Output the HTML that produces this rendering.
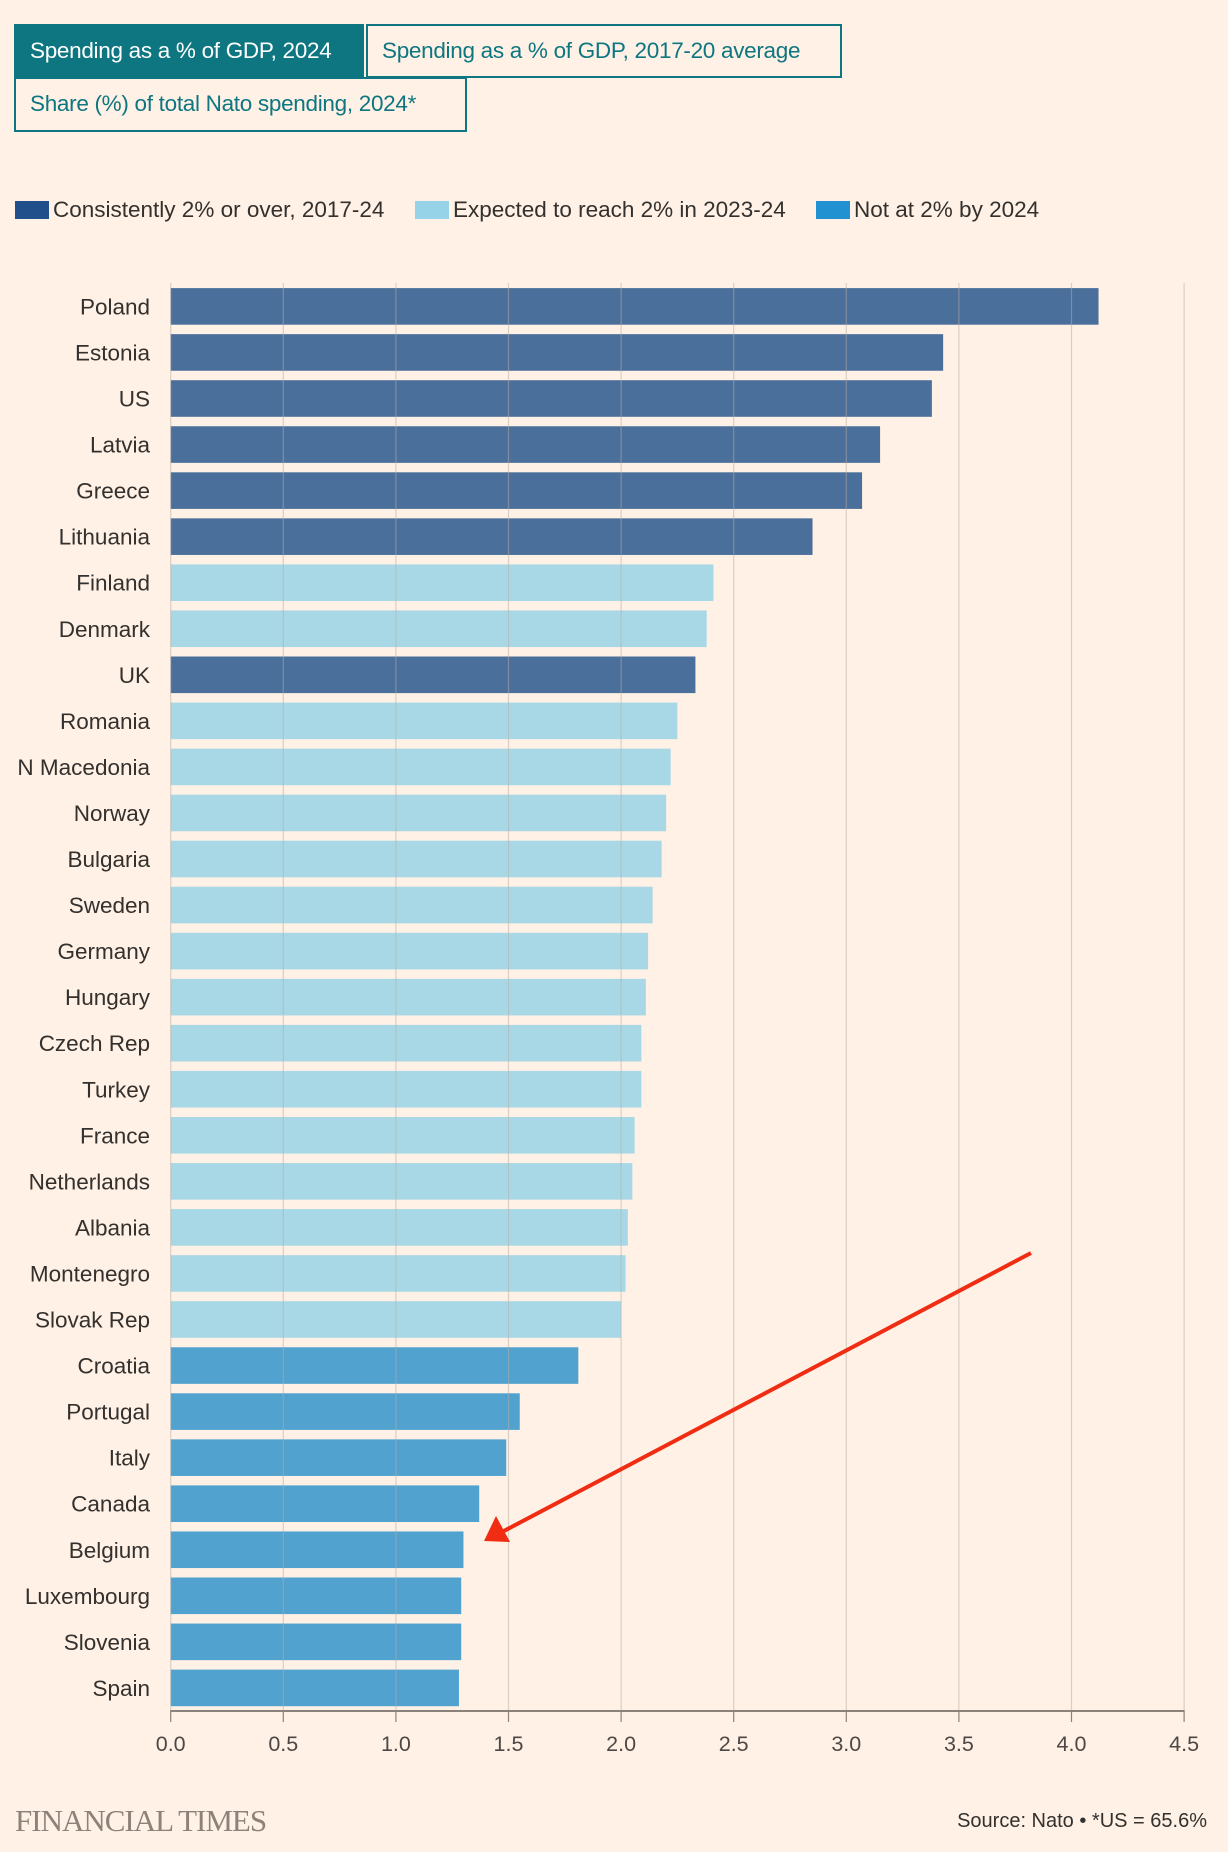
<!DOCTYPE html>
<html><head><meta charset="utf-8"><style>
body{margin:0;background:#fff1e5;font-family:"Liberation Sans",sans-serif;}
#wrap{position:relative;width:1228px;height:1852px;overflow:hidden;background:#fff1e5}
.btn{position:absolute;box-sizing:border-box;border:2px solid #0d7680;color:#0d7680;font-size:22.5px;line-height:49px;padding:0 14px;background:#fff1e5;white-space:nowrap;letter-spacing:-0.3px}
.btn.on{background:#0d7680;color:#fff}
.leg{position:absolute;top:197px;font-size:22.5px;color:#33302e;left:15px;width:1200px;height:26px}
.leg span{position:absolute;top:0;display:flex;align-items:center;gap:4px;white-space:nowrap}
.sw{width:34px;height:18px;display:inline-block}
</style></head><body><div id="wrap">
<div class="btn on" style="left:14px;top:24px;width:350px;height:54px">Spending as a % of GDP, 2024</div>
<div class="btn" style="left:366px;top:24px;width:476px;height:54px">Spending as a % of GDP, 2017-20 average</div>
<div class="btn" style="left:14px;top:77px;width:453px;height:55px">Share (%) of total Nato spending, 2024*</div>
<div class="leg">
<span style="left:0"><i class="sw" style="background:#204f8c"></i>Consistently 2% or over, 2017-24</span>
<span style="left:400px"><i class="sw" style="background:#96d3e8"></i>Expected to reach 2% in 2023-24</span>
<span style="left:801px"><i class="sw" style="background:#2291d1"></i>Not at 2% by 2024</span>
</div>
<svg id="c" width="1228" height="1852" style="position:absolute;left:0;top:0"></svg>
<div style="position:absolute;left:15px;top:1803px;font-family:'Liberation Serif',serif;font-size:31px;color:#8c8279;letter-spacing:-1px">FINANCIAL TIMES</div>
<div style="position:absolute;right:21px;top:1810px;font-size:20px;color:#33302e">Source: Nato • *US = 65.6%</div>
</div>
<script>
const countries=["Poland","Estonia","US","Latvia","Greece","Lithuania","Finland","Denmark","UK","Romania","N Macedonia","Norway","Bulgaria","Sweden","Germany","Hungary","Czech Rep","Turkey","France","Netherlands","Albania","Montenegro","Slovak Rep","Croatia","Portugal","Italy","Canada","Belgium","Luxembourg","Slovenia","Spain"];
const values=[4.12,3.43,3.38,3.15,3.07,2.85,2.41,2.38,2.33,2.25,2.22,2.20,2.18,2.14,2.12,2.11,2.09,2.09,2.06,2.05,2.03,2.02,2.00,1.81,1.55,1.49,1.37,1.30,1.29,1.29,1.28];
const groups=["c","c","c","c","c","c","e","e","c","e","e","e","e","e","e","e","e","e","e","e","e","e","e","n","n","n","n","n","n","n","n"];
const ticks=[0,0.5,1,1.5,2,2.5,3,3.5,4,4.5];
const colors={c:"#4a6f9b",e:"#a8d8e6",n:"#52a2d0"};
const NS="http://www.w3.org/2000/svg",svg=document.getElementById('c');
const x=v=>170.7+v*225.2, yc=i=>306.4+i*46.05;
function mk(t,a){const e=document.createElementNS(NS,t);for(const k in a)e.setAttribute(k,a[k]);svg.appendChild(e);return e;}
countries.forEach((n,i)=>{
 const r=mk('rect',{x:x(0),y:yc(i)-18.3,width:x(values[i])-x(0),height:36.6,fill:colors[groups[i]]});
 
 
 const t=mk('text',{x:150,y:yc(i)+8,'text-anchor':'end','font-size':22.5,fill:'#33302e'});
 t.textContent=n;
 
 
});
ticks.forEach(v=>{
 const g=mk('line',{x1:x(v),x2:x(v),y1:283,y2:1710,stroke:'#b8aca2','stroke-width':1.2,'stroke-opacity':0.5});
 
 
 mk('line',{x1:x(v),x2:x(v),y1:1710,y2:1722,stroke:'#8c8279','stroke-width':1.2});
 const t=mk('text',{x:x(v),y:1751,'text-anchor':'middle','font-size':21.5,fill:'#4d4845'});
 t.textContent=v.toFixed(1);
 
 
});
const ax=mk('line',{x1:x(0),x2:x(4.5),y1:1711,y2:1711,stroke:'#8c8279','stroke-width':2});


const ar=mk('line',{x1:1031,y1:1253,x2:502,y2:1532,stroke:'#f02c12','stroke-width':4});


const ah=mk('polygon',{points:'484,1541 496,1516 510,1542',fill:'#f02c12'});


</script></body></html>
